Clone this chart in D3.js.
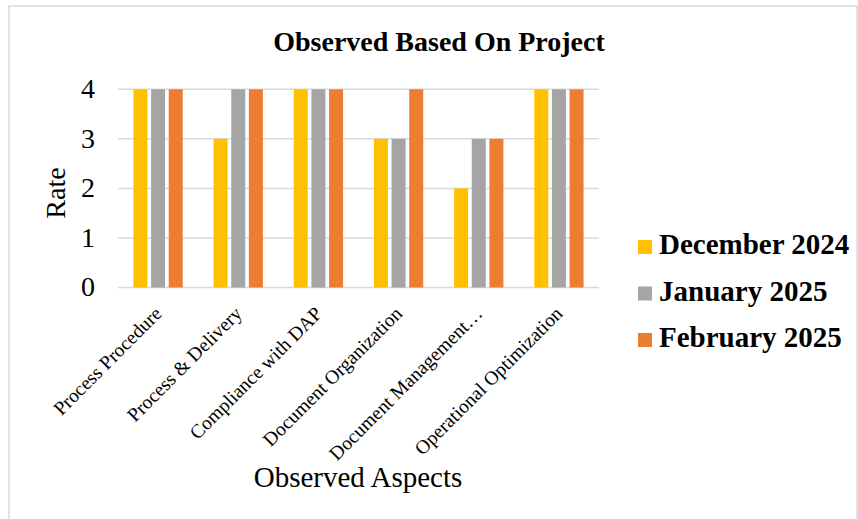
<!DOCTYPE html>
<html>
<head>
<meta charset="utf-8">
<script src="https://cdn.jsdelivr.net/npm/d3@7"></script>
<style>
  body { margin: 0; background: #fff; }
  svg { display: block; font-family: "Liberation Serif", "Times New Roman", serif; }
</style>
</head>
<body>
<svg id="chart" width="858" height="519"></svg>
<script>
// chart data
const categories = ["Process Procedure", "Process & Delivery", "Compliance with DAP",
    "Document Organization", "Document Management…", "Operational Optimization"];
const seriesNames = ["December 2024", "January 2025", "February 2025"];
const dec2024 = [4, 3, 4, 3, 2, 4];
const jan2025 = [4, 4, 4, 3, 3, 4];
const feb2025 = [4, 4, 4, 4, 3, 4];
const yTicks = [0, 1, 2, 3, 4];
const colors = ["#FFC000", "#A5A5A5", "#ED7D31"];

const series = [dec2024, jan2025, feb2025];
const rows = categories.map((c, i) => ({ cat: c, values: series.map(s => s[i]) }));

const svg = d3.select("#chart");

// outer frame (bottom edge runs off the picture)
svg.append("rect")
    .attr("x", 9).attr("y", 6)
    .attr("width", 848).attr("height", 520)
    .attr("fill", "none")
    .attr("stroke", "#d9d9d9")
    .attr("stroke-width", 1.5);

const plotLeft = 118, plotRight = 599, plotTop = 89.3, plotBottom = 287.5;

const x0 = d3.scaleBand()
    .domain(categories)
    .range([plotLeft, plotRight])
    .paddingInner(0.385)
    .paddingOuter(0.1925);

const x1 = d3.scaleBand()
    .domain(d3.range(seriesNames.length))
    .range([0, x0.bandwidth()])
    .paddingInner(0.207);

const y = d3.scaleLinear().domain([0, 4]).range([plotBottom, plotTop]);

// gridlines
svg.append("g")
    .selectAll("line")
    .data(yTicks)
    .join("line")
    .attr("x1", plotLeft).attr("x2", plotRight)
    .attr("y1", d => y(d)).attr("y2", d => y(d))
    .attr("stroke", "#d9d9d9")
    .attr("stroke-width", 1.5);

// bars
svg.append("g")
    .selectAll("g")
    .data(rows)
    .join("g")
    .attr("transform", d => `translate(${x0(d.cat)},0)`)
    .selectAll("rect")
    .data(d => d.values)
    .join("rect")
    .attr("x", (d, i) => x1(i))
    .attr("width", x1.bandwidth())
    .attr("y", d => y(d))
    .attr("height", d => y(0) - y(d))
    .attr("fill", (d, i) => colors[i]);

// y tick labels
svg.append("g")
    .selectAll("text")
    .data(yTicks)
    .join("text")
    .attr("x", 95)
    .attr("y", d => y(d))
    .attr("dy", "0.32em")
    .attr("text-anchor", "end")
    .style("font-size", "28px")
    .attr("fill", "#000")
    .text(d => d);

// x tick labels, rotated
svg.append("g")
    .selectAll("text")
    .data(categories)
    .join("text")
    .attr("transform", d => `translate(${x0(d) + x0.bandwidth() / 2},310) rotate(-45)`)
    .attr("dy", "0.35em")
    .attr("text-anchor", "end")
    .style("font-size", "19.5px")
    .attr("fill", "#000")
    .text(d => d);

// title
svg.append("text")
    .attr("x", 439).attr("y", 51)
    .attr("text-anchor", "middle")
    .style("font-size", "28px")
    .style("font-weight", "bold")
    .text("Observed Based On Project");

// axis titles
svg.append("text")
    .attr("transform", "translate(65,193) rotate(-90)")
    .attr("text-anchor", "middle")
    .style("font-size", "28px")
    .text("Rate");

svg.append("text")
    .attr("x", 358).attr("y", 487)
    .attr("text-anchor", "middle")
    .style("font-size", "29px")
    .text("Observed Aspects");

// legend
const legend = svg.append("g")
    .selectAll("g")
    .data(seriesNames)
    .join("g")
    .attr("transform", (d, i) => `translate(638,${254 + i * 46.5})`);

legend.append("rect")
    .attr("x", 0).attr("y", -14)
    .attr("width", 14).attr("height", 14)
    .attr("fill", (d, i) => colors[i]);

legend.append("text")
    .attr("x", 21).attr("y", 0)
    .style("font-size", "29px")
    .style("font-weight", "bold")
    .text(d => d);
</script>
</body>
</html>
